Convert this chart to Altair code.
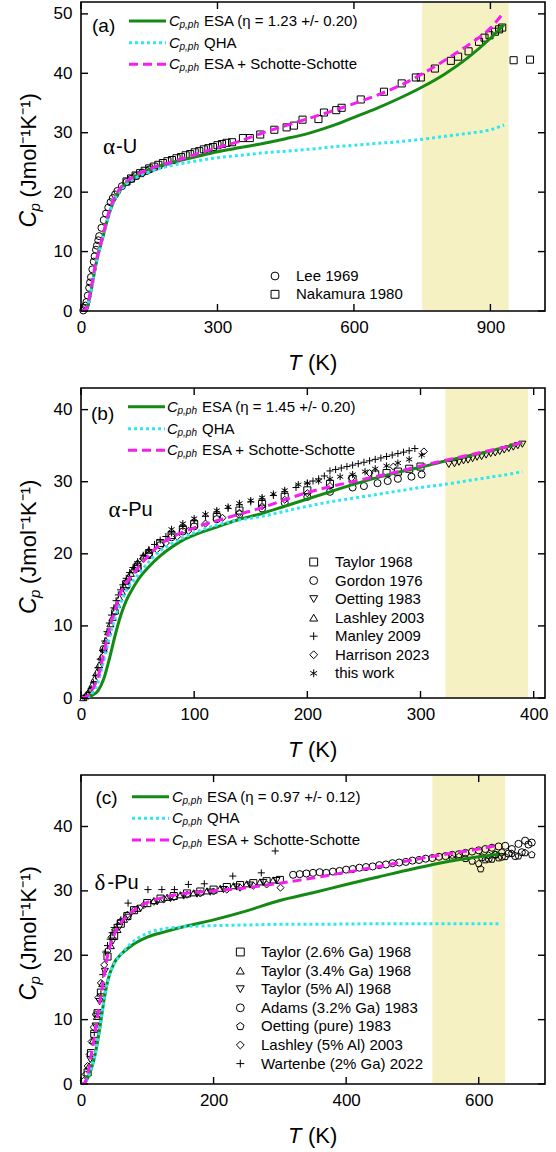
import altair as alt
import pandas as pd

# ---------------- panel (a): alpha-U ----------------
a_T = [0, 10, 15, 20, 25, 30, 35, 40, 50, 60, 70, 80, 100, 120, 150, 200, 250, 300, 350, 400,
       450, 500, 550, 600, 650, 700, 750, 800, 850, 900, 930]
a_esa = [0, 0.2, 1.0, 2.6, 4.6, 6.7, 8.6, 10.1, 13.0, 15.9, 18.1, 19.7, 21.6, 22.7, 23.8, 25.0,
         25.9, 26.8, 27.5, 28.2, 29.0, 29.9, 31.1, 32.6, 34.1, 35.8, 37.7, 39.9, 42.6, 45.9, 48.2]
a_qha = [0, 0.2, 1.0, 2.6, 4.6, 6.7, 8.6, 10.1, 13.0, 15.9, 18.1, 19.6, 21.4, 22.4, 23.4, 24.5,
         25.2, 25.8, 26.2, 26.6, 26.9, 27.2, 27.6, 27.9, 28.2, 28.5, 28.9, 29.4, 29.9, 30.5, 31.3]
a_ss = [0, 0.3, 1.2, 3.0, 5.0, 7.2, 9.0, 10.4, 13.3, 16.3, 18.5, 20.0, 21.8, 22.8, 23.9, 25.1,
        26.3, 27.5, 28.6, 30.0, 31.2, 32.4, 33.6, 34.9, 36.3, 37.9, 39.9, 42.2, 44.7, 47.6, 50.3]
a_lee_T = [5, 8, 10, 12, 15, 18, 20, 22, 25, 28, 30, 33, 35, 38, 40, 45, 50, 55, 60, 65, 70, 75,
           80, 90, 100, 110, 120, 135, 150]
a_lee_Cp = [0.1, 0.5, 0.9, 1.5, 2.6, 3.9, 4.8, 5.7, 7.0, 8.3, 9.2, 10.3, 11.0, 11.9, 12.6, 14.0,
            15.3, 16.4, 17.4, 18.3, 19.0, 19.6, 20.2, 21.0, 21.7, 22.2, 22.7, 23.3, 23.8]
a_nak_T = [100, 110, 120, 130, 140, 150, 160, 170, 180, 190, 200, 210, 220, 230, 240, 250, 260,
           270, 280, 290, 300, 310, 320, 332, 356, 371, 394, 425, 452, 468, 487, 522, 534, 561,
           573, 615, 666, 705, 736, 747, 778, 813, 829, 852, 875, 887, 898, 910, 919, 926, 951, 987]
a_nak_Cp = [21.8, 22.3, 22.8, 23.2, 23.6, 24.0, 24.3, 24.6, 24.9, 25.2, 25.4, 25.7, 25.9, 26.2,
            26.4, 26.7, 26.9, 27.2, 27.4, 27.6, 27.9, 28.1, 28.3, 28.4, 29.1, 29.1, 29.7, 30.5,
            30.9, 31.2, 32.2, 32.3, 33.4, 33.8, 34.2, 35.6, 36.9, 38.3, 39.3, 39.3, 40.8, 42.1,
            42.8, 43.7, 45.3, 46.0, 46.4, 47.0, 47.4, 47.7, 42.2, 42.3]
a_shade = [750, 940]
a_xticks = [0, 300, 600, 900]
a_yticks = [0, 10, 20, 30, 40, 50]
a_eta = "ESA (η = 1.23 +/- 0.20)"

# ---------------- panel (b): alpha-Pu ----------------
b_T = [0, 5, 10, 15, 20, 25, 30, 35, 40, 45, 50, 60, 70, 80, 90, 100, 120, 140, 160, 180, 200,
       220, 240, 260, 280, 300, 320, 340, 360, 380, 390]
b_esa = [0, 0.05, 0.4, 1.0, 2.6, 5.4, 8.6, 11.4, 13.5, 15.0, 16.3, 18.2, 19.7, 20.9, 21.9, 22.6,
         23.7, 24.8, 25.6, 26.6, 27.6, 28.6, 29.6, 30.5, 31.3, 32.0, 32.8, 33.5, 34.2, 35.0, 35.4]
b_qha = [0, 0.1, 0.7, 2.2, 5.2, 8.3, 11.1, 13.2, 14.9, 16.0, 17.0, 18.9, 20.4, 21.4, 22.2, 22.9,
         24.0, 24.7, 25.2, 25.9, 26.6, 27.2, 27.7, 28.2, 28.7, 29.2, 29.6, 30.1, 30.6, 31.1, 31.4]
b_ss = [0, 0.2, 1.2, 2.9, 6.1, 9.6, 12.2, 14.6, 16.0, 17.0, 18.0, 19.8, 21.3, 22.3, 23.0, 23.6,
        24.6, 25.5, 26.4, 27.5, 28.5, 29.3, 30.0, 30.7, 31.4, 32.2, 32.9, 33.6, 34.3, 35.0, 35.5]
b_taylor_T = [40, 50, 60, 70, 80, 90, 100, 120, 140, 160, 180, 200, 220, 240, 260, 270, 280, 290, 300]
b_taylor_Cp = [15.8, 18.2, 20.0, 21.5, 22.6, 23.4, 24.1, 25.1, 26.0, 26.9, 27.9, 28.8, 29.7, 30.4,
               31.0, 31.2, 31.4, 31.8, 32.1]
b_gordon_T = [20, 30, 40, 50, 60, 70, 80, 90, 100, 120, 140, 160, 180, 200, 220, 240, 250, 262,
              271, 280, 292, 301]
b_gordon_Cp = [6.8, 12.0, 15.5, 18.0, 19.8, 21.2, 22.3, 23.1, 23.8, 24.8, 25.5, 26.3, 27.1, 27.9,
               28.6, 29.2, 29.4, 29.8, 30.1, 30.4, 30.7, 31.0]
b_oetting_T = [325, 330, 334, 338, 342, 346, 350, 354, 358, 362, 366, 370, 374, 378, 382, 386, 390]
b_oetting_Cp = [32.4, 32.5, 32.7, 32.9, 33.0, 33.2, 33.4, 33.5, 33.7, 33.9, 34.0, 34.2, 34.4,
                34.6, 34.8, 35.0, 35.2]
b_lashley_T = [2, 4, 6, 8, 10, 12, 14, 16, 18, 20, 22, 24, 26, 28, 30, 32, 34, 36, 38, 40, 42,
               44, 46, 48, 50, 55, 60]
b_lashley_Cp = [0.05, 0.3, 0.7, 1.2, 1.9, 2.7, 3.6, 4.6, 5.7, 6.8, 8.0, 9.2, 10.3, 11.2, 12.1,
                13.0, 13.9, 14.8, 15.5, 16.2, 16.8, 17.3, 17.8, 18.3, 18.8, 19.7, 20.5]
b_manley_T = [3, 5, 7, 9, 11, 13, 15, 17, 19, 21, 23, 25, 27, 29, 31, 33, 35, 37, 40, 43, 46, 50,
              55, 60, 65, 70, 75, 80, 90, 100, 110, 120, 130, 140, 150, 160, 170, 180, 190, 200,
              205, 210, 215, 220, 225, 230, 235, 240, 245, 250, 255, 260, 265, 270, 275, 280,
              285, 290, 295]
b_manley_Cp = [0.1, 0.3, 0.8, 1.3, 2.1, 3.1, 4.2, 5.4, 6.6, 7.9, 9.2, 10.4, 11.5, 12.5, 13.5,
               14.3, 15.0, 15.7, 16.6, 17.4, 18.1, 18.9, 19.8, 20.6, 21.3, 21.9, 22.4, 22.9,
               23.8, 24.6, 25.2, 25.8, 26.3, 26.8, 27.2, 27.6, 28.1, 28.6, 29.2, 29.8, 30.1,
               30.4, 30.8, 31.5, 31.7, 31.9, 32.1, 32.3, 32.5, 32.7, 32.9, 33.1, 33.3, 33.5,
               33.7, 33.9, 34.1, 34.3, 34.6]
b_harrison_T = [55, 60, 67, 75, 85, 95, 110, 125, 140, 160, 180, 200, 220, 239, 255, 276, 303]
b_harrison_Cp = [19.3, 19.9, 20.6, 21.5, 22.4, 23.2, 24.2, 25.0, 25.7, 26.6, 27.5, 28.4, 29.4,
                 30.5, 31.2, 32.1, 34.2]
b_work_T = [80, 90, 100, 110, 120, 130, 140, 150, 160, 170, 180, 192, 200, 210, 220, 229, 240,
            251, 260, 270, 280, 290, 301]
b_work_Cp = [23.4, 24.2, 24.9, 25.5, 26.0, 26.5, 27.0, 27.4, 27.8, 28.3, 28.8, 29.6, 29.8, 30.1,
             30.4, 30.7, 31.0, 31.4, 31.8, 32.2, 32.6, 33.1, 33.7]
b_shade = [322, 395]
b_xticks = [0, 100, 200, 300, 400]
b_yticks = [0, 10, 20, 30, 40]
b_eta = "ESA (η = 1.45 +/- 0.20)"

# ---------------- panel (c): delta-Pu ----------------
c_T = [0, 5, 10, 15, 20, 25, 30, 35, 40, 50, 60, 75, 100, 125, 150, 200, 250, 300, 350, 400,
       450, 500, 550, 600, 630]
c_esa = [0, 0.15, 0.9, 2.2, 4.0, 6.6, 9.8, 13.2, 15.9, 18.8, 20.1, 21.4, 22.8, 23.6, 24.3, 25.5,
         26.9, 28.5, 29.7, 31.0, 32.2, 33.4, 34.5, 35.3, 35.7]
c_qha = [0, 0.15, 0.9, 2.2, 4.0, 6.6, 9.8, 13.2, 15.9, 18.7, 20.1, 21.8, 23.4, 24.1, 24.4, 24.6,
         24.7, 24.8, 24.8, 24.85, 24.9, 24.9, 24.9, 24.9, 24.9]
c_ss = [0, 0.1, 1.5, 4.3, 7.1, 10.5, 13.8, 17.0, 19.9, 23.2, 25.0, 26.6, 28.2, 29.0, 29.5, 30.0,
        30.5, 31.2, 32.0, 32.9, 33.8, 34.8, 35.7, 36.5, 37.1]
c_tay26_T = [10, 15, 20, 25, 30, 40, 50, 60, 70, 80, 100, 120, 140, 160, 180, 200, 220, 240, 260,
             280, 300]
c_tay26_Cp = [1.8, 4.8, 7.8, 11.0, 14.2, 19.8, 23.0, 24.9, 26.1, 27.0, 28.1, 28.8, 29.2, 29.6,
              29.9, 30.2, 30.6, 30.9, 31.2, 31.5, 31.7]
c_tay34_T = [12, 18, 24, 32, 45, 55, 65, 85, 110, 130, 150, 170, 190, 210, 230, 250, 270, 290]
c_tay34_Cp = [2.8, 6.8, 10.5, 15.6, 21.5, 24.0, 25.6, 27.3, 28.5, 29.0, 29.4, 29.7, 30.0, 30.4,
              30.8, 31.1, 31.4, 31.7]
c_tay5_T = [14, 22, 28, 36, 48, 58, 72, 90, 115, 135, 155, 175, 195, 215, 235, 255, 275, 295]
c_tay5_Cp = [3.8, 9.0, 12.8, 17.5, 22.2, 24.4, 25.9, 27.3, 28.3, 28.8, 29.2, 29.5, 29.8, 30.2,
             30.6, 30.9, 31.3, 31.6]
c_adams_T = [320, 330, 340, 350, 360, 370, 380, 390, 400, 410, 420, 430, 440, 450, 460, 470, 480,
             490, 500, 510, 520, 530, 540, 550, 560, 570, 580, 590, 600, 605, 610, 615, 620, 625,
             630, 635, 640, 645, 650, 655, 660, 665, 670, 675, 680]
c_adams_Cp = [32.5, 32.6, 32.7, 32.8, 32.9, 32.8, 33.0, 33.1, 33.3, 33.4, 33.6, 33.7, 33.8, 34.0,
              34.1, 34.3, 34.4, 34.5, 34.7, 34.8, 35.0, 35.1, 35.3, 35.4, 35.6, 35.7, 35.9, 36.1,
              36.3, 35.2, 36.5, 35.0, 36.7, 35.6, 36.9, 35.3, 37.0, 35.8, 36.5, 35.4, 37.3, 36.0,
              37.8, 37.2, 37.5]
c_oetting_T = [560, 570, 580, 590, 600, 603, 610, 615, 620, 625, 630, 635, 640, 650, 660, 670, 680]
c_oetting_Cp = [35.0, 35.3, 35.0, 34.6, 34.2, 33.4, 34.8, 35.5, 34.9, 35.6, 35.1, 36.0, 35.3,
                35.8, 35.4, 35.9, 35.6]
c_lashley_T = [4, 7, 10, 13, 16, 19, 22, 26, 30, 35, 40, 46, 52, 60, 70, 80, 95, 110, 125, 140,
               160, 180, 200, 220, 240, 260, 280, 301]
c_lashley_Cp = [0.5, 1.5, 2.8, 4.6, 6.6, 8.8, 10.8, 13.4, 15.7, 18.5, 20.7, 22.8, 24.0, 25.3,
                26.3, 27.0, 27.8, 28.3, 28.7, 29.0, 29.4, 29.6, 29.9, 30.2, 30.5, 30.8, 31.0, 30.5]
c_wart_T = [20, 25, 30, 33, 37, 40, 44, 47, 50, 55, 60, 71, 101, 122, 141, 162, 186, 229, 272, 293]
c_wart_Cp = [8.0, 11.0, 14.0, 17.0, 20.5, 21.5, 22.5, 23.5, 24.3, 24.8, 25.5, 28.1, 30.2, 30.2,
             30.2, 31.0, 31.1, 32.3, 32.8, 36.2]
c_shade = [530, 640]
c_xticks = [0, 200, 400, 600]
c_yticks = [0, 10, 20, 30, 40]
c_eta = "ESA (η = 0.97 +/- 0.12)"

# ---------------- styling ----------------
FONT = "Liberation Sans"
GREEN = "#148a14"
CYAN = "#2ee6f4"
MAGENTA = "#f41ef0"
SHADE = "#f6f1c2"
W = 464
TICK = 7
SHAPES = {
    "circle": "circle", "square": "square", "tri_up": "triangle-up",
    "tri_down": "triangle-down", "diamond": "diamond",
    "plus": "M-1,0L1,0M0,-1L0,1",
    "star": "M0,-1L0,1M-0.866,-0.5L0.866,0.5M-0.866,0.5L0.866,-0.5",
    "pentagon": "M0,-1L0.951,-0.309L0.588,0.809L-0.588,0.809L-0.951,-0.309Z",
}
CURVES = [("esa", GREEN, None), ("qha", CYAN, [3, 3]), ("ss", MAGENTA, [9, 5])]
LINE_TEXT = ["QHA", "ESA + Schotte-Schotte"]


def one_row(txt=""):
    return pd.DataFrame({"t": [txt]})


def txt(s, x, y, size, style="normal", font=FONT, align="left", angle=0):
    return alt.Chart(one_row(s)).mark_text(
        align=align, baseline="middle", fontSize=size, font=font, fontStyle=style,
        color="black", angle=angle
    ).encode(x=alt.value(x), y=alt.value(y), text="t:N")


def build(p):
    H = p["H"]
    xs = alt.Scale(domain=p["xdom"], nice=False, zero=False)
    ys = alt.Scale(domain=p["ydom"], nice=False, zero=False)
    xax = alt.Axis(values=p["xticks"], format="d", ticks=False, domain=False, grid=False,
                   labelFontSize=17, labelPadding=8, labelFlush=False, title=None)
    yax = alt.Axis(values=p["yticks"], format="d", ticks=False, domain=False, grid=False,
                   labelFontSize=17, labelPadding=9, title=None)

    def X(f):
        return alt.X(f, type="quantitative", scale=xs, axis=xax)

    def Y(f):
        return alt.Y(f, type="quantitative", scale=ys, axis=yax)

    layers = []
    sh = pd.DataFrame({"x0": [p["shade"][0]], "x1": [p["shade"][1]]})
    layers.append(alt.Chart(sh).mark_rect(color=SHADE).encode(
        x=X("x0"), x2="x1", y=alt.value(1), y2=alt.value(H - 1)))

    for label, shp, Ts, Cs in p["sets"]:
        df = pd.DataFrame({"T": Ts, "Cp": Cs})
        layers.append(alt.Chart(df).mark_point(
            shape=SHAPES[shp], filled=False, color="black", size=50, strokeWidth=1, opacity=1
        ).encode(x=X("T"), y=Y("Cp")))

    for key, color, dash in CURVES:
        df = pd.DataFrame({"T": p["T"], "Cp": p[key]})
        kw = dict(color=color, strokeWidth=3, interpolate="monotone", clip=True)
        if dash:
            kw["strokeDash"] = dash
        layers.append(alt.Chart(df).mark_line(**kw).encode(x=X("T"), y=Y("Cp")))

    # inward ticks on all four sides
    dfx = pd.DataFrame({"v": p["xticks"]})
    dfy = pd.DataFrame({"v": p["yticks"]})
    tk = dict(color="black", thickness=1.4, size=TICK, opacity=1)
    half = TICK / 2
    layers += [
        alt.Chart(dfx).mark_tick(orient="vertical", **tk).encode(
            x=X("v"), y=alt.value(H - half)),
        alt.Chart(dfx).mark_tick(orient="vertical", **tk).encode(
            x=X("v"), y=alt.value(half)),
        alt.Chart(dfy).mark_tick(orient="horizontal", **tk).encode(
            y=Y("v"), x=alt.value(half)),
        alt.Chart(dfy).mark_tick(orient="horizontal", **tk).encode(
            y=Y("v"), x=alt.value(W - half)),
    ]

    # axis titles: italic symbols with sub/superscripts
    ty = H + 52
    layers.append(txt("T", W / 2 - 25, ty, 22, "italic"))
    layers.append(txt("(K)", W / 2 - 5, ty, 22))
    yx, y0 = -52.5, H / 2 + 71
    layers.append(txt("C", yx, y0, 23, "italic", angle=270))
    layers.append(txt("p", yx + 6, y0 - 16, 15, "italic", angle=270))
    layers.append(txt("(Jmol⁻¹K⁻¹)", yx, y0 - 30, 22, angle=270))

    # line legend
    lx1, lx2, cx, rx = p["leg_x"]
    texts = [p["eta"]] + LINE_TEXT
    for (key, color, dash), ry, s in zip(CURVES, p["leg_y"], texts):
        kw = dict(color=color, strokeWidth=3)
        if dash:
            kw["strokeDash"] = dash
        layers.append(alt.Chart(one_row()).mark_rule(**kw).encode(
            x=alt.value(lx1), x2=alt.value(lx2), y=alt.value(ry)))
        layers.append(txt("C", cx, ry, 15, "italic"))
        layers.append(txt("p,ph", cx + 10.5, ry + 4, 10, "italic"))
        layers.append(txt(s, rx, ry, 15))

    # marker legend
    sx, tx, sy0, sdy = p["mk_leg"]
    for i, (label, shp, _, _) in enumerate(p["sets"]):
        y = sy0 + i * sdy
        layers.append(alt.Chart(one_row()).mark_point(
            shape=SHAPES[shp], filled=False, color="black", size=62, strokeWidth=1, opacity=1
        ).encode(x=alt.value(sx), y=alt.value(y)))
        layers.append(txt(label, tx, y, 15))

    # panel tags
    tgx, tgy = p["tag_pos"]
    layers.append(txt(p["tag"], tgx, tgy, 19))
    gx, gy = p["phase_pos"]
    layers.append(txt(p["greek"], gx, gy, 23, font="Liberation Serif"))
    layers.append(txt(p["phase"], gx + 13, gy, 20))

    return alt.layer(*layers).properties(width=W, height=H)


pa = build(dict(
    H=309, xdom=[0, 1020], ydom=[0, 52], xticks=a_xticks, yticks=a_yticks, shade=a_shade,
    T=a_T, esa=a_esa, qha=a_qha, ss=a_ss, eta=a_eta,
    sets=[("Lee 1969", "circle", a_lee_T, a_lee_Cp),
          ("Nakamura 1980", "square", a_nak_T, a_nak_Cp)],
    leg_x=(48, 85, 88, 123), leg_y=[19, 40.7, 62.3], mk_leg=(194, 215, 274, 18.3),
    tag="(a)", tag_pos=(11, 24), greek="α", phase="-U", phase_pos=(22, 144.5)))

pb = build(dict(
    H=310, xdom=[0, 410], ydom=[0, 43], xticks=b_xticks, yticks=b_yticks, shade=b_shade,
    T=b_T, esa=b_esa, qha=b_qha, ss=b_ss, eta=b_eta,
    sets=[("Taylor 1968", "square", b_taylor_T, b_taylor_Cp),
          ("Gordon 1976", "circle", b_gordon_T, b_gordon_Cp),
          ("Oetting 1983", "tri_down", b_oetting_T, b_oetting_Cp),
          ("Lashley 2003", "tri_up", b_lashley_T, b_lashley_Cp),
          ("Manley 2009", "plus", b_manley_T, b_manley_Cp),
          ("Harrison 2023", "diamond", b_harrison_T, b_harrison_Cp),
          ("this work", "star", b_work_T, b_work_Cp)],
    leg_x=(47, 84, 86, 121), leg_y=[18.7, 40.7, 62.3], mk_leg=(232.7, 254, 174, 18.55),
    tag="(b)", tag_pos=(10, 26), greek="α", phase="-Pu", phase_pos=(27.5, 121.5)))

pc = build(dict(
    H=309, xdom=[0, 700], ydom=[0, 48], xticks=c_xticks, yticks=c_yticks, shade=c_shade,
    T=c_T, esa=c_esa, qha=c_qha, ss=c_ss, eta=c_eta,
    sets=[("Taylor (2.6% Ga) 1968", "square", c_tay26_T, c_tay26_Cp),
          ("Taylor (3.4% Ga) 1968", "tri_up", c_tay34_T, c_tay34_Cp),
          ("Taylor (5% Al) 1968", "tri_down", c_tay5_T, c_tay5_Cp),
          ("Adams (3.2% Ga) 1983", "circle", c_adams_T, c_adams_Cp),
          ("Oetting (pure) 1983", "pentagon", c_oetting_T, c_oetting_Cp),
          ("Lashley (5% Al) 2003", "diamond", c_lashley_T, c_lashley_Cp),
          ("Wartenbe (2% Ga) 2022", "plus", c_wart_T, c_wart_Cp)],
    leg_x=(51, 88, 91, 126), leg_y=[21.7, 43.3, 65], mk_leg=(159.3, 180, 177, 18.6),
    tag="(c)", tag_pos=(14.5, 23), greek="δ", phase="-Pu", phase_pos=(13.5, 108)))

chart = alt.vconcat(pa, pb, pc, spacing=77, bounds="flush").properties(
    padding={"left": 16, "right": 4, "top": 1, "bottom": 4},
    background="white",
).configure_view(stroke="black", strokeWidth=1.6).configure_axis(
    labelFont=FONT, labelColor="black")

chart.save("out.html", embed_options={"renderer": "svg", "actions": False})
